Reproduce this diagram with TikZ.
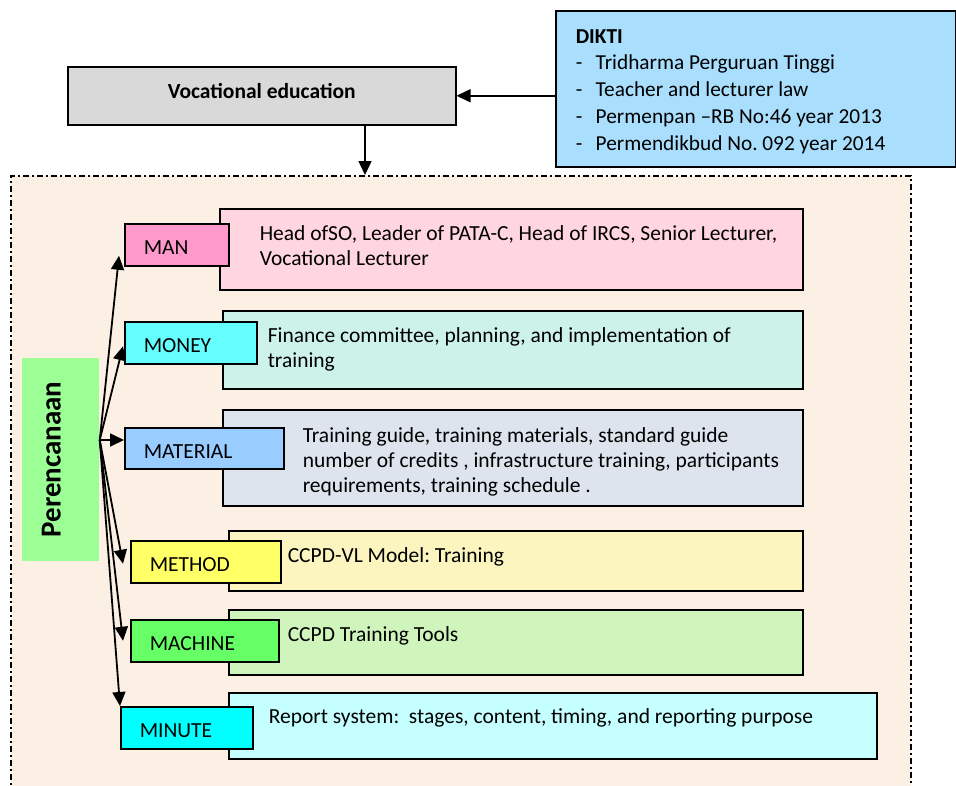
\documentclass[tikz,border=0pt]{standalone}
\usepackage{fontspec}
\setmainfont{Carlito}
\usetikzlibrary{arrows.meta}

\definecolor{vocgray}{HTML}{D9D9D9}
\definecolor{diktiblue}{HTML}{A9DEFD}
\definecolor{planbg}{HTML}{FCEFE3}
\definecolor{perengreen}{HTML}{9CFF96}
\definecolor{mantag}{HTML}{FF99CC}
\definecolor{manpale}{HTML}{FFD5DF}
\definecolor{moneytag}{HTML}{66FFFF}
\definecolor{moneypale}{HTML}{CCF2EA}
\definecolor{mattag}{HTML}{99CCFF}
\definecolor{matpale}{HTML}{DEE4EE}
\definecolor{methtag}{HTML}{FFFF66}
\definecolor{methpale}{HTML}{FDF5C0}
\definecolor{machtag}{HTML}{66FF66}
\definecolor{machpale}{HTML}{CFF5BC}
\definecolor{mintag}{HTML}{00FFFF}
\definecolor{minpale}{HTML}{C6FFFF}

\newcommand{\bul}{\makebox[20pt][l]{-}}

\begin{document}
\frenchspacing
\begin{tikzpicture}[
        x=1pt, y=-1pt,
        >={Triangle[length=14pt,width=13pt]},
        line width=1.5pt,
        font=\fontsize{21.5}{25}\selectfont,
        box/.style={draw, inner sep=0pt, anchor=north west},
        frame/.style={draw, fill=planbg, anchor=north west, inner sep=0pt,
                      dash pattern=on 6pt off 3pt on 2pt off 3pt},
        tag/.style={draw, anchor=north west, inner xsep=19pt, inner ysep=0pt,
                    minimum height=42pt, text height=20pt, text depth=0pt, align=left},
        note/.style={anchor=base west, align=left, inner sep=0pt}
        ]
        \useasboundingbox (0,0) rectangle (956,785);

        \node[frame, minimum width=900pt, minimum height=640pt] (plan) at (10,175) {};

        \node[box, fill=vocgray, minimum width=388pt, minimum height=58pt,
              text height=14pt, text depth=8pt, font=\bfseries\fontsize{21.5}{25}\selectfont]
              (voc) at (67,66) {Vocational education};
        \node[box, fill=diktiblue, minimum width=400pt, minimum height=156pt] (dikti) at (555,10) {};
        \node[note, font=\fontsize{21.3}{26.75}\selectfont] (diktitxt) at (575,150)
              {\textbf{DIKTI}\\ \bul Tridharma Perguruan Tinggi\\ \bul Teacher and lecturer law\\
               \bul Permenpan --RB No:46 year 2013\\ \bul Permendikbud No. 092 year 2014};

        \node[fill=perengreen, rotate=90, minimum width=203pt, minimum height=77pt,
              inner sep=0pt, text height=20pt, text depth=20pt,
              font=\bfseries\fontsize{29}{30}\selectfont] (peren) at (60.5,459.5) {Perencanaan};

        % big boxes
        \node[box, fill=manpale, minimum width=583pt, minimum height=81pt] (manbox) at (219,208) {};
        \node[box, fill=moneypale, minimum width=580pt, minimum height=78pt] (moneybox) at (222,310) {};
        \node[box, fill=matpale, minimum width=580pt, minimum height=96pt] (matbox) at (222,409) {};
        \node[box, fill=methpale, minimum width=574pt, minimum height=60pt] (methbox) at (228,530) {};
        \node[box, fill=machpale, minimum width=574pt, minimum height=65pt] (machbox) at (228,609) {};
        \node[box, fill=minpale, minimum width=648pt, minimum height=66pt] (minbox) at (228,692) {};

        % tags
        \node[tag, fill=mantag, text width=66pt] (man) at (124,223) {MAN};
        \node[tag, fill=moneytag, text width=94pt] (money) at (124,321) {MONEY};
        \node[tag, fill=mattag, text width=121pt, minimum height=41pt] (mat) at (124,427) {MATERIAL};
        \node[tag, fill=methtag, text width=112pt] (meth) at (130,540) {METHOD};
        \node[tag, fill=machtag, text width=110pt] (mach) at (130,619) {MACHINE};
        \node[tag, fill=mintag, text width=94pt] (minute) at (120,706) {MINUTE};

        % texts
        \node[note] (mantxt) at (259,265) {Head ofSO, Leader of PATA-C, Head of IRCS, Senior Lecturer,\\Vocational Lecturer};
        \node[note] (moneytxt) at (267,367) {Finance committee, planning, and implementation of\\training};
        \node[note] (mattxt) at (302,492) {Training guide, training materials, standard guide\\number of credits , infrastructure training, participants\\requirements, training schedule .};
        \node[note] (methtxt) at (287,562) {CCPD-VL Model: Training};
        \node[note] (machtxt) at (287,641) {CCPD Training Tools};
        \node[note] (mintxt) at (268,723) {Report system:\ \ stages, content, timing, and reporting purpose};

        \draw[->] (dikti.west |- voc.east) -- (voc.east);
        \draw[->] (voc.south -| 365,0) -- (plan.north -| 365,0);

        \coordinate (fan) at (peren.south |- 0,440);
        \path[->, line width=1.8pt]
              (fan) edge ([xshift=-5pt,yshift=-11pt]man.west)
              (fan) edge ([xshift=-1pt,yshift=-3.5pt]money.west)
              (fan) edge (fan -| mat.west)
              (fan) edge ([xshift=-7pt,yshift=-2pt]meth.west)
              (fan) edge ([xshift=-7pt]mach.west)
              (fan) edge (minute.north west);
\end{tikzpicture}
\end{document}
